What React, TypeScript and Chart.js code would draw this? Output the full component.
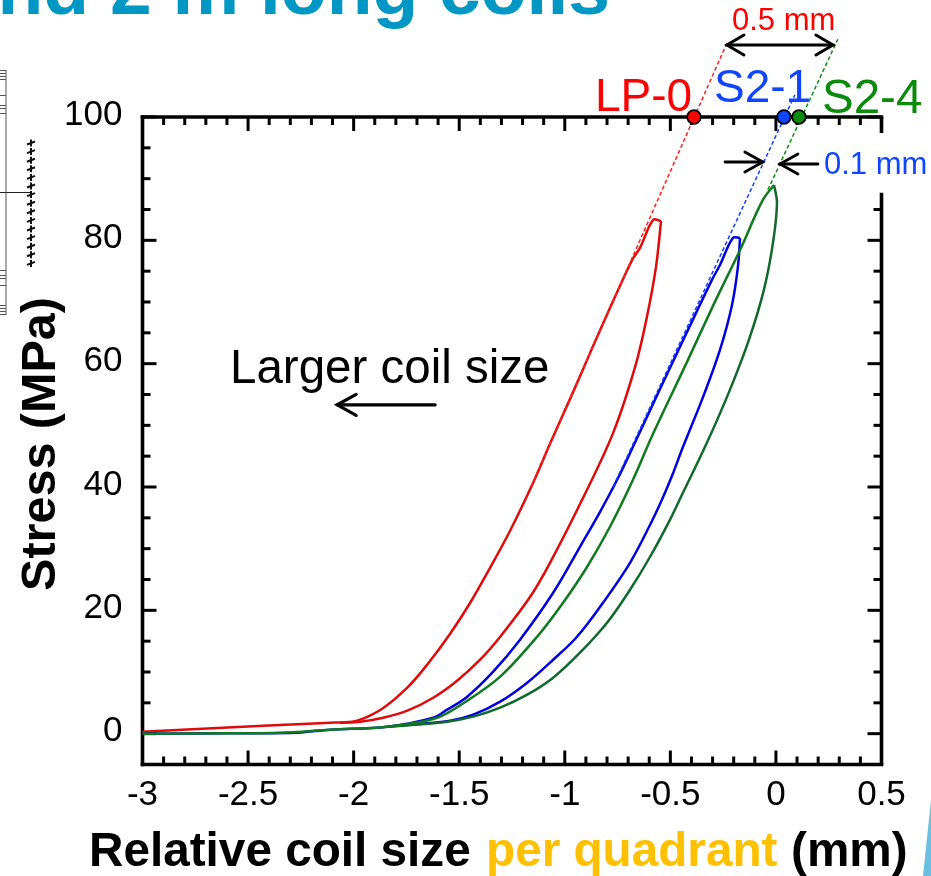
import React, { useEffect, useRef } from "react";
import { Chart, registerables } from "chart.js";

Chart.register(...registerables);

type P = [number, number];

const FONT = '"Liberation Sans", Arial, sans-serif';

// Relative coil size (mm), stress (MPa)
const redLoading: P[] = [
  [-3, 0.32], [-2.717, 0.81], [-2.428, 1.3], [-2.111, 1.78], [-2.063, 1.83], [-1.983, 2.11], [-1.865, 4.05],
  [-1.746, 7.46], [-1.652, 11.18], [-1.543, 16.21], [-1.448, 21.23], [-1.354, 26.9], [-1.259, 32.9],
  [-1.15, 40.68], [-1.07, 47], [-0.975, 54.29], [-0.88, 61.75], [-0.786, 69.04], [-0.681, 76.82],
  [-0.644, 78.77], [-0.582, 83.31], [-0.544, 83.14],
];
const redUnloading: P[] = [
  [-0.544, 83.14], [-0.568, 75.69], [-0.611, 67.59], [-0.667, 59.48], [-0.771, 48.78], [-0.918, 37.93],
  [-1.07, 27.71], [-1.164, 22.2], [-1.306, 15.72], [-1.401, 11.99], [-1.51, 8.59], [-1.623, 5.83],
  [-1.746, 3.73], [-1.86, 2.59], [-1.969, 1.94], [-2.063, 1.78],
];
const blueLoading: P[] = [
  [-3, 0], [-2.584, 0.08], [-2.267, 0.16], [-2.111, 0.65], [-1.841, 1.13], [-1.623, 2.59], [-1.557, 3.89],
  [-1.462, 6], [-1.339, 10.05], [-1.212, 15.24], [-1.055, 22.85], [-0.928, 30.31], [-0.833, 35.98],
  [-0.752, 41.17], [-0.677, 46.52], [-0.549, 55.9], [-0.421, 65.15], [-0.303, 73.58], [-0.265, 76.01],
  [-0.204, 80.39], [-0.17, 80.39],
];
const blueUnloading: P[] = [
  [-0.17, 80.39], [-0.18, 75.69], [-0.208, 69.53], [-0.265, 62.24], [-0.345, 54.62], [-0.44, 46.52],
  [-0.492, 41.82], [-0.54, 37.93], [-0.596, 33.87], [-0.691, 27.71], [-0.819, 21.23], [-0.942, 15.72],
  [-1.055, 11.99], [-1.178, 8.27], [-1.306, 5.19], [-1.434, 3.08], [-1.543, 2.11], [-1.652, 1.7], [-1.841, 1.13],
];
const greenLoading: P[] = [
  [-3, 0], [-2.584, 0.08], [-2.347, 0.16], [-2.111, 0.65], [-1.841, 1.13], [-1.604, 2.59], [-1.462, 5.35],
  [-1.306, 9.24], [-1.131, 15.72], [-1.008, 21.23], [-0.894, 27.07], [-0.786, 33.55], [-0.677, 41.17],
  [-0.582, 48.62], [-0.421, 60.29], [-0.298, 69.37], [-0.17, 78.44], [-0.062, 86.55], [-0.009, 88.98],
];
const greenUnloading: P[] = [
  [-0.009, 88.98], [0.005, 86.06], [-0.014, 79.58], [-0.057, 71.96], [-0.128, 63.86], [-0.218, 55.75],
  [-0.327, 47.16], [-0.445, 38.74], [-0.502, 34.68], [-0.596, 28.69], [-0.691, 23.34], [-0.8, 17.99],
  [-0.928, 13.13], [-1.055, 9.08], [-1.178, 6.32], [-1.306, 4.21], [-1.434, 2.76], [-1.557, 1.94],
  [-1.765, 1.3], [-1.841, 1.13],
];

const redSlope: P[] = [[-1.159, 40.03], [-0.232, 112]];
const blueSlope: P[] = [[-0.771, 40.03], [0.09, 103.6]];
const greenSlope: P[] = [[-0.038, 88.2], [0.293, 112.6]];

const redIntercept: P[] = [[-0.388, 100]];
const blueIntercept: P[] = [[0.038, 100]];
const greenIntercept: P[] = [[0.109, 100]];

const arrows: { from: P; to: P; both?: boolean; w: number; head: [number, number] }[] = [
  { from: [-0.232, 111.67], to: [0.27, 111.67], both: true, w: 3, head: [17, 10] },
  { from: [-0.241, 92.7], to: [-0.062, 92.7], w: 2.8, head: [18, 10] },
  { from: [0.199, 92.38], to: [0.019, 92.38], w: 2.8, head: [18, 10] },
  { from: [-1.614, 53.32], to: [-2.078, 53.32], w: 3.2, head: [19, 10.5] },
];

const labels: { text: string; x: number; y: number; size: number; color: string; bold?: boolean }[] = [
  { text: "0.5 mm", x: 732, y: 30, size: 31, color: "#FF0000" },
  { text: "LP-0", x: 595, y: 111, size: 46, color: "#FF0000" },
  { text: "S2-1", x: 714, y: 102, size: 46, color: "#0F45FF" },
  { text: "S2-4", x: 822, y: 113, size: 47.5, color: "#0B8A0B" },
  { text: "0.1 mm", x: 824, y: 174, size: 31, color: "#0F45FF" },
  { text: "Larger coil size", x: 230, y: 383, size: 47.5, color: "#000000" },
  { text: "Relative coil size", x: 89, y: 866, size: 47.7, color: "#000000", bold: true },
  { text: "per quadrant", x: 486, y: 866, size: 47.7, color: "#FFC000", bold: true },
  { text: "(mm)", x: 791, y: 866, size: 47.7, color: "#000000", bold: true },
];

const pageTitle = "nd 2 m long coils";
const yTitle = "Stress (MPa)";

const line = (ctx: CanvasRenderingContext2D, a: number, b: number, c: number, d: number) => {
  ctx.beginPath();
  ctx.moveTo(a, b);
  ctx.lineTo(c, d);
  ctx.stroke();
};

const frame = {
  id: "frame",
  beforeDatasetsDraw(chart: any) {
    const { ctx, chartArea: a, scales } = chart;
    ctx.save();
    ctx.strokeStyle = "#000";
    ctx.lineCap = "butt";
    for (const t of scales.x.ticks) {
      const v = t.value;
      const px = scales.x.getPixelForValue(v);
      const major = Math.abs(v * 2 - Math.round(v * 2)) < 1e-6;
      const len = major ? 14 : 8;
      ctx.lineWidth = 3;
      line(ctx, px, a.bottom, px, a.bottom - len);
      line(ctx, px, a.top, px, a.top + len);
    }
    for (const t of scales.y.ticks) {
      const v = t.value;
      const py = scales.y.getPixelForValue(v);
      const major = Math.abs(v / 20 - Math.round(v / 20)) < 1e-6;
      const len = major ? 14 : 8;
      ctx.lineWidth = 3;
      line(ctx, a.left, py, a.left + len, py);
      if (v < 87 || v === 100) line(ctx, a.right, py, a.right - len, py);
    }
    ctx.lineWidth = 3.6;
    ctx.lineCap = "square";
    line(ctx, a.left, a.top, a.right, a.top);
    line(ctx, a.left, a.bottom, a.right, a.bottom);
    line(ctx, a.left, a.top, a.left, a.bottom);
    ctx.lineCap = "butt";
    line(ctx, a.right, a.top, a.right, scales.y.getPixelForValue(97.4));
    line(ctx, a.right, scales.y.getPixelForValue(87.7), a.right, a.bottom);
    ctx.restore();
  },
  afterDatasetsDraw(chart: any) {
    const { ctx, scales } = chart;
    ctx.save();
    ctx.textBaseline = "alphabetic";

    // cropped slide furniture around the plot
    ctx.fillStyle = "#0097C4";
    ctx.font = `bold 75px ${FONT}`;
    ctx.textAlign = "right";
    ctx.fillText(pageTitle, 610, 14);
    ctx.textAlign = "left";

    ctx.strokeStyle = "#555";
    ctx.lineWidth = 1;
    line(ctx, 6, 70, 6, 315);
    for (const yy of [70, 73, 76, 79, 95, 105, 108, 113, 270, 275, 278, 285, 305, 308, 311, 314]) line(ctx, 0, yy + 0.5, 6, yy + 0.5);
    ctx.strokeStyle = "#222";
    line(ctx, 0, 192.5, 30, 192.5);
    ctx.lineWidth = 2;
    ctx.strokeStyle = "#111";
    for (let i = 0; i < 15; i++) {
      const yy = 143 + i * 8.6;
      line(ctx, 31, yy - 3.5, 31, yy + 3.5);
      line(ctx, 27, yy + 1.5, 35, yy - 1.5);
    }
    ctx.fillStyle = "#6BBFE0";
    ctx.beginPath();
    ctx.moveTo(931, 800);
    ctx.lineTo(923, 876);
    ctx.lineTo(931, 876);
    ctx.closePath();
    ctx.fill();

    // arrows
    ctx.strokeStyle = "#000";
    ctx.lineCap = "round";
    for (const ar of arrows) {
      const x1 = scales.x.getPixelForValue(ar.from[0]);
      const y1 = scales.y.getPixelForValue(ar.from[1]);
      const x2 = scales.x.getPixelForValue(ar.to[0]);
      const y2 = scales.y.getPixelForValue(ar.to[1]);
      ctx.lineWidth = ar.w;
      line(ctx, x1, y1, x2, y2);
      const dir = x2 > x1 ? 1 : -1;
      const heads: [number, number][] = [[x2, dir]];
      if (ar.both) heads.push([x1, -dir]);
      for (const [hx, d] of heads) {
        ctx.beginPath();
        ctx.moveTo(hx - d * ar.head[0], y1 - ar.head[1]);
        ctx.lineTo(hx, y1);
        ctx.lineTo(hx - d * ar.head[0], y1 + ar.head[1]);
        ctx.stroke();
      }
    }

    // annotations and axis titles
    for (const l of labels) {
      ctx.fillStyle = l.color;
      ctx.font = `${l.bold ? "bold " : ""}${l.size}px ${FONT}`;
      ctx.fillText(l.text, l.x, l.y);
    }
    ctx.translate(55, 444);
    ctx.rotate(-Math.PI / 2);
    ctx.textAlign = "center";
    ctx.fillStyle = "#000";
    ctx.font = `bold 48.5px ${FONT}`;
    ctx.fillText(yTitle, 0, 0);
    ctx.restore();
  },
};

const curve = (data: P[], color: string) => ({
  data: data.map(([x, y]) => ({ x, y })),
  showLine: true,
  borderColor: color,
  borderWidth: 2.5,
  pointRadius: 0,
  tension: 0.35,
  clip: false as const,
});
const slope = (data: P[], color: string) => ({
  data: data.map(([x, y]) => ({ x, y })),
  showLine: true,
  borderColor: color,
  borderWidth: 1.5,
  borderDash: [4, 2.5],
  pointRadius: 0,
  clip: false as const,
});
const dot = (data: P[], color: string) => ({
  data: data.map(([x, y]) => ({ x, y })),
  showLine: false,
  backgroundColor: color,
  borderColor: "#000",
  borderWidth: 1.8,
  pointRadius: 6.8,
  clip: false as const,
});

export default function App() {
  const ref = useRef<HTMLCanvasElement>(null);
  useEffect(() => {
    const chart = new Chart(ref.current!, {
      type: "scatter",
      data: {
        datasets: [
          dot(redIntercept, "#FF0000"),
          dot(blueIntercept, "#0F45FF"),
          dot(greenIntercept, "#0B8A0B"),
          slope(redSlope, "#FF2020"),
          slope(blueSlope, "#1040FF"),
          slope(greenSlope, "#0A900A"),
          curve(greenLoading, "#0F7A1F"),
          curve(greenUnloading, "#116A2C"),
          curve(blueLoading, "#0000E0"),
          curve(blueUnloading, "#0000E0"),
          curve(redLoading, "#E00A0A"),
          curve(redUnloading, "#E00A0A"),
        ] as any,
      },
      options: {
        animation: false,
        responsive: false,
        devicePixelRatio: 1,
        layout: { autoPadding: false, padding: { top: 117, right: 49.5, left: 0, bottom: 0 } },
        plugins: { legend: { display: false }, tooltip: { enabled: false } },
        scales: {
          x: {
            type: "linear",
            min: -3,
            max: 0.5,
            grid: { display: false },
            border: { display: false },
            afterFit: (s: any) => { s.height = 111.5; },
            ticks: {
              stepSize: 0.1,
              autoSkip: false,
              maxRotation: 0,
              minRotation: 0,
              padding: 2,
              color: "#000",
              font: { family: FONT, size: 35 },
              callback: (v: any) => (Math.abs(v * 2 - Math.round(v * 2)) < 1e-6 ? String(Math.round(v * 2) / 2) : ""),
            },
          },
          y: {
            type: "linear",
            min: -5,
            max: 100,
            grid: { display: false },
            border: { display: false },
            afterFit: (s: any) => { s.width = 142.5; },
            ticks: {
              stepSize: 5,
              autoSkip: false,
              padding: 12,
              labelOffset: -2,
              color: "#000",
              font: { family: FONT, size: 35 },
              callback: (v: any) => (v % 20 === 0 ? String(v) : ""),
            },
          },
        },
      } as any,
      plugins: [frame],
    });
    return () => chart.destroy();
  }, []);
  return <canvas ref={ref} width={931} height={876} style={{ position: "absolute", left: 0, top: 0, display: "block" }} />;
}
